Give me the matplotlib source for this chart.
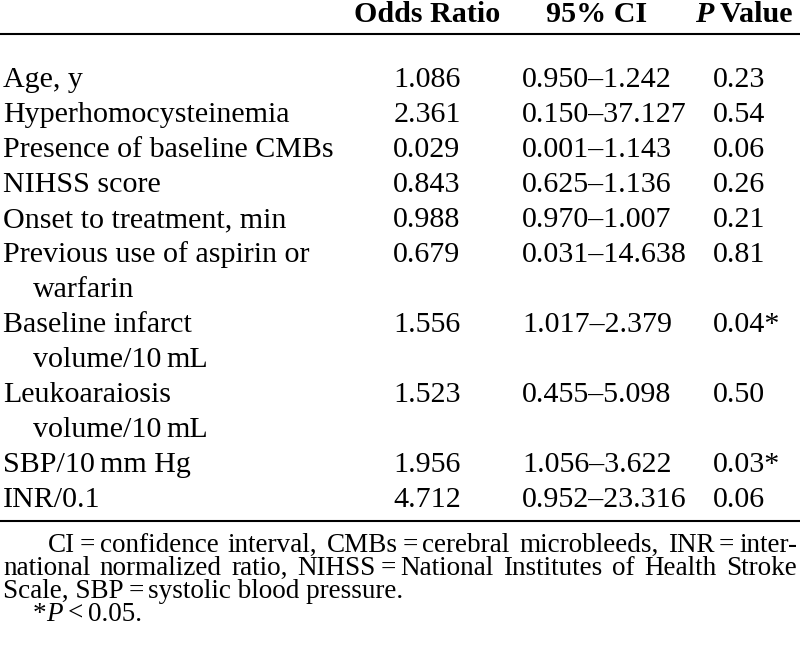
import matplotlib
matplotlib.use("Agg")
import matplotlib.pyplot as plt

# table data
row_labels = [
    ["Age, y"],
    ["Hyperhomocysteinemia"],
    ["Presence of baseline CMBs"],
    ["NIHSS score"],
    ["Onset to treatment, min"],
    ["Previous use of aspirin or", "warfarin"],
    ["Baseline infarct", "volume/10\u2009mL"],
    ["Leukoaraiosis", "volume/10\u2009mL"],
    ["SBP/10\u2009mm Hg"],
    ["INR/0.1"],
]
odds_ratios = [1.086, 2.361, 0.029, 0.843, 0.988, 0.679, 1.556, 1.523, 1.956, 4.712]
ci_low = [0.950, 0.150, 0.001, 0.625, 0.970, 0.031, 1.017, 0.455, 1.056, 0.952]
ci_high = [1.242, 37.127, 1.143, 1.136, 1.007, 14.638, 2.379, 5.098, 3.622, 23.316]
p_values = [0.23, 0.54, 0.06, 0.26, 0.21, 0.81, 0.04, 0.50, 0.03, 0.06]

footnote_lines = [
    ["CI\u2009=\u2009confidence", "interval,", "CMBs\u2009=\u2009cerebral", "microbleeds,", "INR\u2009=\u2009inter-"],
    ["national", "normalized", "ratio,", "NIHSS\u2009=\u2009National", "Institutes", "of", "Health", "Stroke"],
]
footnote_last = "Scale, SBP\u2009=\u2009systolic blood pressure."

plt.rcParams['font.family'] = ['Liberation Serif', 'DejaVu Serif']
FS = 21.6       # table text (pt)
FS_NOTE = 19.5  # footnote text (pt)

fig = plt.figure(figsize=(8, 6.5), dpi=100)
ax = fig.add_axes([0, 0, 1, 1])
ax.set_xlim(0, 800)
ax.set_ylim(650, 0)
ax.axis('off')
renderer = fig.canvas.get_renderer()


def put(x, y, s, size, **kw):
    # left aligned text; \u2009 is drawn as a small gap so no fallback font is needed
    thin = size * 100 / 72 * 0.17
    pieces = s.split("\u2009")
    for k, p in enumerate(pieces):
        t = ax.text(x, y, p, fontsize=size, va='baseline', ha='left', **kw)
        x += t.get_window_extent(renderer=renderer).width
        if k < len(pieces) - 1:
            x += thin
    return x


def measure(s, size, **kw):
    n = len(ax.texts)
    x = put(0, 0, s, size, **kw)
    for t in ax.texts[n:]:
        t.remove()
    return x


def justify(words, x0, x1, y, size):
    widths = [measure(w, size) for w in words]
    gap = (x1 - x0 - sum(widths)) / (len(words) - 1)
    x = x0
    for w, wd in zip(words, widths):
        put(x, y, w, size)
        x += wd + gap


# header
header_y = 22
ax.text(427, header_y, "Odds Ratio", fontsize=FS, fontweight='bold', ha='center', va='baseline')
ax.text(597, header_y, "95% CI", fontsize=FS, fontweight='bold', ha='center', va='baseline')
x = put(695, header_y, "P", FS, fontweight='bold', fontstyle='italic')
put(x, header_y, " Value", FS, fontweight='bold')
ax.plot([0, 800], [34, 34], color='black', lw=1.5, solid_capstyle='butt')

# body rows
first_base = 87
pitch = 35
slot = 0
for i, lines in enumerate(row_labels):
    y = first_base + slot * pitch
    for j, line in enumerate(lines):
        put(3 if j == 0 else 33, y + j * pitch, line, FS)
    ax.text(427, y, f"{odds_ratios[i]:.3f}", fontsize=FS, va='baseline', ha='center')
    ax.text(522, y, f"{ci_low[i]:.3f}\u2013{ci_high[i]:.3f}", fontsize=FS, va='baseline', ha='left')
    mark = "*" if p_values[i] < 0.05 else ""
    ax.text(713, y, f"{p_values[i]:.2f}{mark}", fontsize=FS, va='baseline', ha='left')
    slot += len(lines)

bottom_rule = first_base + (slot - 1) * pitch + 14
ax.plot([0, 800], [bottom_rule, bottom_rule], color='black', lw=1.5, solid_capstyle='butt')

# footnotes
note_y = [552, 575, 598, 621]
justify(footnote_lines[0], 48, 797, note_y[0], FS_NOTE)
justify(footnote_lines[1], 3, 797, note_y[1], FS_NOTE)
put(3, note_y[2], footnote_last, FS_NOTE)
x = put(33, note_y[3], "*", FS_NOTE)
x = put(x, note_y[3], "P", FS_NOTE, fontstyle='italic')
put(x, note_y[3], "\u2009<\u20090.05.", FS_NOTE)

fig.savefig("out.png", dpi=100)
